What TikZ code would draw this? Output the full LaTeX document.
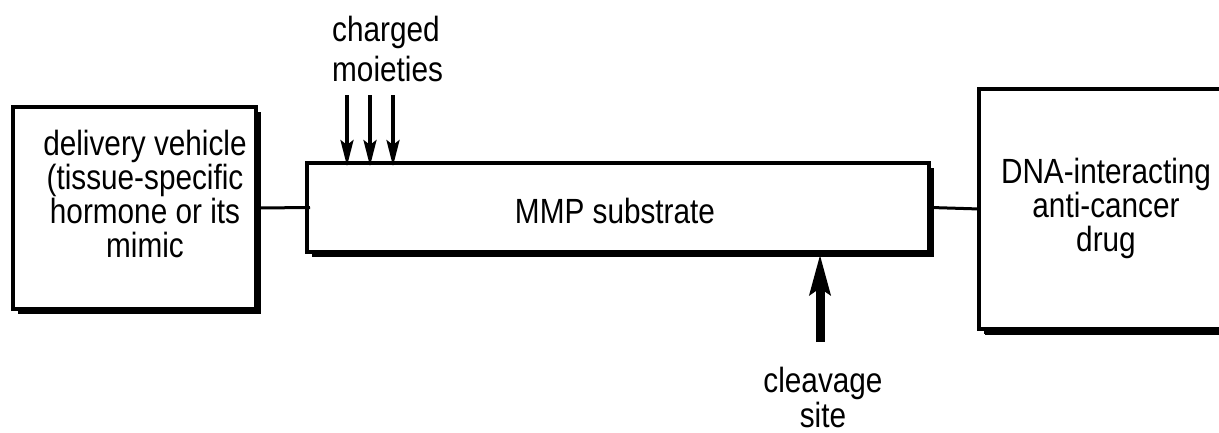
\documentclass[tikz,border=0pt]{standalone}
\usepackage{fontspec}
\setmainfont{Liberation Sans}[FakeStretch=0.85]
\usetikzlibrary{arrows.meta,shadows}
\begin{document}
\begin{tikzpicture}[x=1pt,y=-1pt,
  box/.style={draw=black,line width=4pt,fill=white,inner sep=0pt,
    drop shadow={shadow xshift=5pt,shadow yshift=-5pt,fill=black,opacity=1}},
  txt/.style={inner sep=0pt,font=\fontsize{35}{34}\selectfont},
  conn/.style={line width=3pt},
  thinarrow/.style={line width=3.5pt,-{Stealth[length=26pt,width=13pt,inset=5pt]}},
  thickarrow/.style={line width=9pt,-{Stealth[length=40pt,width=20pt,inset=6pt]}}]
\useasboundingbox (0,0) rectangle (1219,432);
\clip (0,0) rectangle (1219,432);
% boxes
\node[box,minimum width=243pt,minimum height=202pt] (lbox) at (134.5,208) {};
\node[box,minimum width=622pt,minimum height=89pt] (mbox) at (618,207.5) {};
\node[box,minimum width=300pt,minimum height=240pt,
  drop shadow={shadow xshift=6pt,shadow yshift=-6pt,fill=black,opacity=1}] (rbox) at (1129,209) {};
% texts
\node[txt,align=center] (ltext) at (145,194) {delivery vehicle\\(tissue-specific\\hormone or its\\mimic};
\node[txt,anchor=base] (mtext) at (615,223) {MMP substrate};
\node[txt,align=center] (rtext) at (1106,208) {DNA-interacting\\anti-cancer\\drug};
\node[txt,align=left,anchor=west,font=\fontsize{35}{40}\selectfont] (charged) at (332,49) {charged\\moieties};
\node[txt,align=center,font=\fontsize{35}{35}\selectfont] (cleave) at (823,397) {cleavage\\site};
% connectors
\draw[conn] (lbox.east) -- ([xshift=5pt]mbox.west);
\draw[conn] (mbox.east) -- ([xshift=3pt]rbox.west);
% charged moiety arrows
\coordinate (c1) at (347,95);
\coordinate (c2) at (370,95);
\coordinate (c3) at (393,95);
\draw[thinarrow] (c1) -- ([yshift=-5pt]c1 |- mbox.north);
\draw[thinarrow] (c2) -- ([yshift=-5pt]c2 |- mbox.north);
\draw[thinarrow] (c3) -- ([yshift=-5pt]c3 |- mbox.north);
% cleavage arrow
\coordinate (cv) at (820,342);
\draw[thickarrow] (cv) -- (cv |- mbox.south);
\end{tikzpicture}
\end{document}
